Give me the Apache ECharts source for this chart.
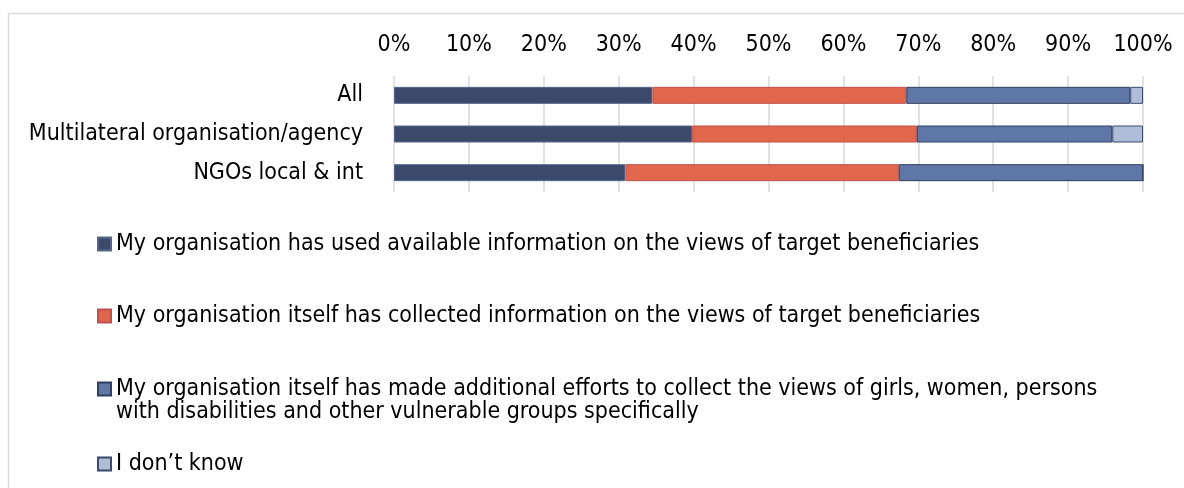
<!DOCTYPE html>
<html>
<head>
<meta charset="utf-8">
<script src="https://cdn.jsdelivr.net/npm/echarts@6/dist/echarts.min.js"></script>
<style>
  html, body { margin: 0; padding: 0; background: #fff; }
  #chart { width: 1184px; height: 488px; }
</style>
</head>
<body>
<div id="chart"></div>
<script>
// Respondent groups (top to bottom)
const categories = ['All', 'Multilateral organisation/agency', 'NGOs local & int'];

// Share of respondents per answer, in percent
const usedAvailable = [34.5, 39.8, 30.9];
const collectedItself = [33.9, 30.0, 36.5];
const additionalEfforts = [29.9, 26.1, 32.6];
const dontKnow = [1.7, 4.1, 0];

const seriesNames = [
  'My organisation has used available information on the views of target beneficiaries',
  'My organisation itself has collected information on the views of target beneficiaries',
  'My organisation itself has made additional efforts to collect the views of girls, women, persons\nwith disabilities and other vulnerable groups specifically',
  'I don\u2019t know'
];

const tickValues = [0, 10, 20, 30, 40, 50, 60, 70, 80, 90, 100];

const FONT = '"DejaVu Sans Condensed", "DejaVu Sans", sans-serif';
const fills = ['#3B4A6B', '#E0674B', '#5F77A7', '#B0BDD9'];
const strokes = ['#56668A', '#C0504D', '#2F3E61', '#3A4A6A'];
const values = [usedAvailable, collectedItself, additionalEfforts, dontKnow];

const chart = echarts.init(document.getElementById('chart'), null, { renderer: 'canvas' });

const series = seriesNames.map((name, i) => ({
  name: name,
  type: 'bar',
  stack: 'total',
  barWidth: 17,
  data: values[i],
  itemStyle: { color: fills[i], borderColor: strokes[i], borderWidth: 1 },
  emphasis: { disabled: true }
}));

// One legend block per entry so each can sit at its own height.
// A wrapped entry gets an empty leading line so its marker lines up with the first line.
const legendTops = [232.5, 304.5, 354.5, 452.5];
const legends = seriesNames.map((name, i) => ({
  data: [name],
  orient: 'vertical',
  left: 97,
  top: legendTops[i],
  padding: 0,
  itemWidth: 13,
  itemHeight: 13,
  itemGap: 5,
  icon: 'rect',
  selectedMode: false,
  formatter: n => (n.indexOf('\n') >= 0 ? '\n' + n : n),
  textStyle: {
    fontFamily: FONT,
    fontSize: 23,
    lineHeight: 23,
    color: '#000'
  }
}));

chart.setOption({
  animation: false,
  backgroundColor: '#fff',
  textStyle: { fontFamily: FONT },
  graphic: [{
    type: 'rect',
    shape: { x: 8.5, y: 13.5, width: 1200, height: 500 },
    style: { fill: 'none', stroke: '#D9D9D9', lineWidth: 1.5 },
    silent: true,
    z: -10
  }],
  grid: { left: 394, right: 41, top: 76, height: 116, containLabel: false },
  xAxis: {
    type: 'value',
    position: 'top',
    min: 0,
    max: 100,
    interval: 10,
    axisLine: { show: false },
    axisTick: { show: false },
    axisLabel: {
      formatter: v => tickValues.indexOf(v) >= 0 ? v + '%' : '',
      fontFamily: FONT,
      fontSize: 23,
      color: '#000',
      margin: 19
    },
    splitLine: { show: true, lineStyle: { color: '#D9D9D9', width: 1.5 } }
  },
  yAxis: {
    type: 'category',
    inverse: true,
    data: categories,
    axisLine: { show: false },
    axisTick: { show: false },
    axisLabel: {
      fontFamily: FONT,
      fontSize: 23,
      color: '#000',
      margin: 31
    }
  },
  legend: legends,
  series: series
});
</script>
</body>
</html>
